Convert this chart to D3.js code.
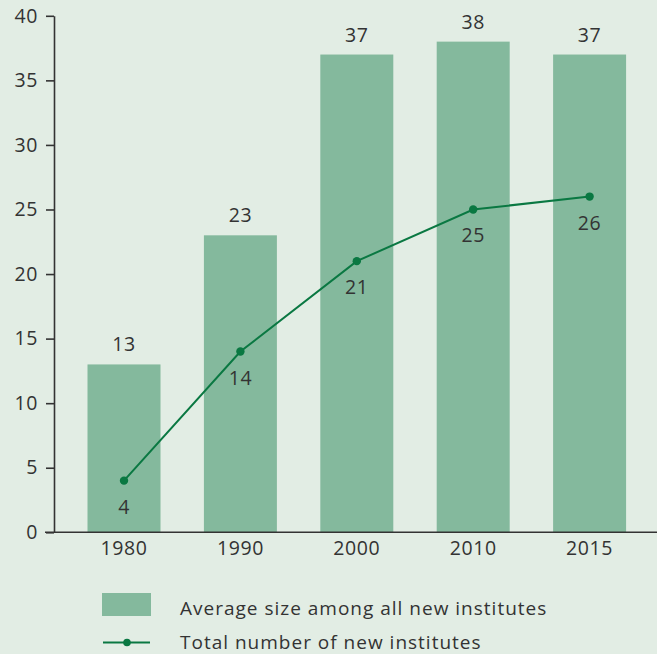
<!DOCTYPE html>
<html><head><meta charset="utf-8">
<script src="https://cdn.jsdelivr.net/npm/d3@7"></script>
<style>
html,body{margin:0;padding:0;background:#e2ede4;}
svg{display:block;font-family:"Open Sans",sans-serif;}
</style></head>
<body>
<svg id="chart" width="657" height="654"></svg>
<script>
const years = ["1980","1990","2000","2010","2015"];
const avgSize = [13,23,37,38,37];
const totalNew = [4,14,21,25,26];
const yTicks = [0,5,10,15,20,25,30,35,40];
const legendLabels = ["Average size among all new institutes","Total number of new institutes"];

const barColor = "#84b99d", lineColor = "#0a7842", textColor = "#333333", axisColor = "#333333";
const numSize = 19.5, numSpacing = 0.6;
const svg = d3.select("#chart");
svg.append("rect").attr("width",657).attr("height",654).attr("fill","#e2ede4");

const x = d3.scaleBand().domain(years).range([65.8,647.8]).paddingInner(0.373).paddingOuter(0.1865);
const y = d3.scaleLinear().domain([0,40]).range([532.3,15.8]);

// bars
svg.selectAll("rect.bar").data(avgSize).join("rect").attr("class","bar")
  .attr("x",(d,i)=>x(years[i])).attr("width",x.bandwidth())
  .attr("y",d=>y(d)).attr("height",d=>y(0)-y(d)).attr("fill",barColor);

svg.selectAll("text.barlab").data(avgSize).join("text").attr("class","barlab")
  .attr("x",(d,i)=>x(years[i])+x.bandwidth()/2).attr("y",d=>y(d)-13)
  .attr("text-anchor","middle").attr("font-size",numSize).attr("letter-spacing",numSpacing)
  .attr("fill",textColor).text(d=>d);

// axes
const yAxis = svg.append("g").attr("transform","translate(54,0)")
  .call(d3.axisLeft(y).tickValues(yTicks).tickSize(8).tickPadding(8).tickSizeOuter(0));
yAxis.select(".domain").attr("stroke",axisColor).attr("stroke-width",1.6);
yAxis.selectAll(".tick line").attr("stroke",axisColor).attr("stroke-width",1.6);
yAxis.selectAll(".tick text").attr("font-size",numSize).attr("letter-spacing",numSpacing)
  .attr("fill",textColor).attr("font-family","Open Sans");

svg.append("line").attr("x1",45).attr("x2",657).attr("y1",y(0)).attr("y2",y(0))
  .attr("stroke",axisColor).attr("stroke-width",1.6);

const xAxis = svg.append("g").attr("transform",`translate(0,${y(0)})`)
  .call(d3.axisBottom(x).tickSize(0).tickPadding(9));
xAxis.select(".domain").remove();
xAxis.selectAll(".tick text").attr("font-size",numSize).attr("letter-spacing",numSpacing)
  .attr("fill",textColor).attr("font-family","Open Sans");

// line
const line = d3.line().x((d,i)=>x(years[i])+x.bandwidth()/2).y(d=>y(d));
svg.append("path").datum(totalNew).attr("d",line).attr("fill","none")
  .attr("stroke",lineColor).attr("stroke-width",2);
svg.selectAll("circle.pt").data(totalNew).join("circle").attr("class","pt")
  .attr("cx",(d,i)=>x(years[i])+x.bandwidth()/2).attr("cy",d=>y(d)).attr("r",4.2).attr("fill",lineColor);
svg.selectAll("text.ptlab").data(totalNew).join("text").attr("class","ptlab")
  .attr("x",(d,i)=>x(years[i])+x.bandwidth()/2).attr("y",d=>y(d)+33)
  .attr("text-anchor","middle").attr("font-size",numSize).attr("letter-spacing",numSpacing)
  .attr("fill",textColor).text(d=>d);

// legend
const lg = svg.append("g");
lg.append("rect").attr("x",102).attr("y",593).attr("width",49).attr("height",23).attr("fill",barColor);
lg.append("text").attr("x",180).attr("y",615).attr("font-size",19).attr("letter-spacing",1)
  .attr("fill",textColor).text(legendLabels[0]);
lg.append("line").attr("x1",103).attr("x2",150).attr("y1",642.5).attr("y2",642.5).attr("stroke",lineColor).attr("stroke-width",2);
lg.append("circle").attr("cx",127).attr("cy",642.5).attr("r",3.8).attr("fill",lineColor);
lg.append("text").attr("x",180).attr("y",648.5).attr("font-size",19).attr("letter-spacing",1)
  .attr("fill",textColor).text(legendLabels[1]);
</script>
</body></html>
